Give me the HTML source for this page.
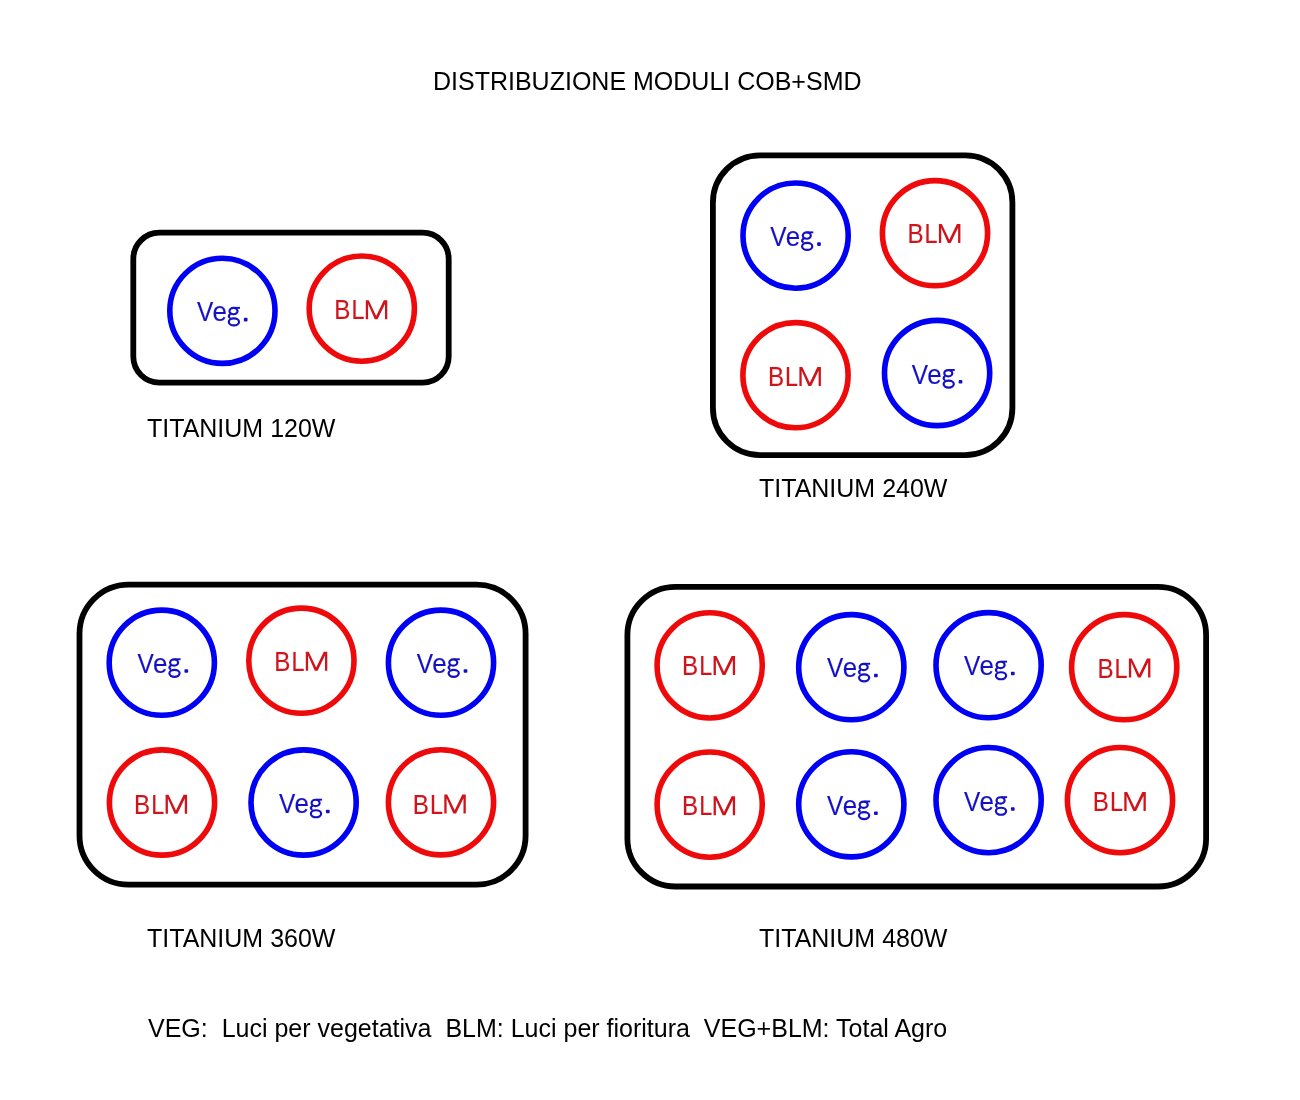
<!DOCTYPE html>
<html><head><meta charset="utf-8"><title>Distribuzione moduli COB+SMD</title>
<style>
html,body{margin:0;padding:0;background:#fff;}
body{width:1300px;height:1100px;position:relative;overflow:hidden;font-family:"Liberation Sans",sans-serif;color:#000;}
#wrap{position:absolute;left:0;top:0;width:1300px;height:1100px;will-change:transform;}
svg{position:absolute;left:0;top:0;}
.v{font-family:"Liberation Sans",sans-serif;font-size:28.05px;fill:#1410c4;stroke:#1410c4;stroke-width:0.15px;}
.b{font-family:"Liberation Sans",sans-serif;font-size:28.05px;fill:#d0141c;stroke:#d0141c;stroke-width:0.15px;}
.lab{font-family:"Liberation Sans",sans-serif;font-size:25px;fill:#000;white-space:pre;}
</style></head><body>
<div id="wrap"><svg width="1300" height="1100" viewBox="0 0 1300 1100">
<g>
<rect x="133.3" y="232.7" width="315.4" height="150.0" rx="26.1" ry="26.1" fill="none" stroke="#000" stroke-width="5.8"/>
<rect x="712.9" y="155.3" width="299.5" height="299.8" rx="47.1" ry="47.1" fill="none" stroke="#000" stroke-width="5.8"/>
<rect x="79.5" y="584.6" width="446.1" height="300.0" rx="49.1" ry="49.1" fill="none" stroke="#000" stroke-width="5.8"/>
<rect x="627.4" y="586.9" width="578.7" height="299.6" rx="48.1" ry="48.1" fill="none" stroke="#000" stroke-width="5.8"/>
<circle cx="222.4" cy="310.8" r="52.6" fill="none" stroke="#0000f5" stroke-width="5.6"/>
<circle cx="361.8" cy="308.6" r="52.6" fill="none" stroke="#ee0a0a" stroke-width="5.6"/>
<circle cx="795.6" cy="235.6" r="52.6" fill="none" stroke="#0000f5" stroke-width="5.6"/>
<circle cx="935.0" cy="233.2" r="52.6" fill="none" stroke="#ee0a0a" stroke-width="5.6"/>
<circle cx="795.5" cy="375.2" r="52.6" fill="none" stroke="#ee0a0a" stroke-width="5.6"/>
<circle cx="937.1" cy="373.0" r="52.6" fill="none" stroke="#0000f5" stroke-width="5.6"/>
<circle cx="161.8" cy="662.7" r="52.6" fill="none" stroke="#0000f5" stroke-width="5.6"/>
<circle cx="301.4" cy="660.7" r="52.6" fill="none" stroke="#ee0a0a" stroke-width="5.6"/>
<circle cx="441.0" cy="662.7" r="52.6" fill="none" stroke="#0000f5" stroke-width="5.6"/>
<circle cx="162.0" cy="802.5" r="52.6" fill="none" stroke="#ee0a0a" stroke-width="5.6"/>
<circle cx="303.6" cy="802.5" r="52.6" fill="none" stroke="#0000f5" stroke-width="5.6"/>
<circle cx="441.0" cy="802.3" r="52.6" fill="none" stroke="#ee0a0a" stroke-width="5.6"/>
<circle cx="709.7" cy="665.4" r="52.6" fill="none" stroke="#ee0a0a" stroke-width="5.6"/>
<circle cx="851.3" cy="667.2" r="52.6" fill="none" stroke="#0000f5" stroke-width="5.6"/>
<circle cx="988.6" cy="665.2" r="52.6" fill="none" stroke="#0000f5" stroke-width="5.6"/>
<circle cx="1124.2" cy="667.2" r="52.6" fill="none" stroke="#ee0a0a" stroke-width="5.6"/>
<circle cx="709.7" cy="804.6" r="52.6" fill="none" stroke="#ee0a0a" stroke-width="5.6"/>
<circle cx="851.3" cy="804.3" r="52.6" fill="none" stroke="#0000f5" stroke-width="5.6"/>
<circle cx="988.6" cy="800.1" r="52.6" fill="none" stroke="#0000f5" stroke-width="5.6"/>
<circle cx="1120.0" cy="800.1" r="52.6" fill="none" stroke="#ee0a0a" stroke-width="5.6"/>
<text class="v" transform="translate(196.88 321.40) scale(0.871 1)">V</text>
<text class="v" transform="translate(212.51 321.40) scale(0.925 1)">e</text>
<g transform="translate(197.00 321.40)" fill="none" stroke="#1410c4" stroke-width="2.2"><ellipse cx="36.5" cy="-10.3" rx="4.0" ry="3.15"/><path d="M37 -13.55 H43.0" stroke-width="1.9"/><path d="M33.6 -7.4 C31.4 -6.4 31.0 -4.3 33.4 -3.4"/><ellipse cx="36.9" cy="0.55" rx="5.1" ry="3.5"/></g>
<rect x="243.85" y="317.85" width="3.7" height="3.55" rx="0.8" fill="#1410c4"/>
<text class="b" transform="translate(334.32 319.20) scale(0.861 1)">B</text>
<text class="b" transform="translate(351.48 319.20) scale(0.833 1)">L</text>
<path transform="translate(336.30 319.20)" fill="#d0141c" d="M29.5 0V-19H32.4L39.9 -3.3L47.5 -19H51V0H48.7V-15.3L41.3 0H38.5L31.8 -15.3V0Z"/>
<text class="v" transform="translate(770.18 245.90) scale(0.871 1)">V</text>
<text class="v" transform="translate(785.81 245.90) scale(0.925 1)">e</text>
<g transform="translate(770.30 245.90)" fill="none" stroke="#1410c4" stroke-width="2.2"><ellipse cx="36.5" cy="-10.3" rx="4.0" ry="3.15"/><path d="M37 -13.55 H43.0" stroke-width="1.9"/><path d="M33.6 -7.4 C31.4 -6.4 31.0 -4.3 33.4 -3.4"/><ellipse cx="36.9" cy="0.55" rx="5.1" ry="3.5"/></g>
<rect x="817.15" y="242.35" width="3.7" height="3.55" rx="0.8" fill="#1410c4"/>
<text class="b" transform="translate(907.42 243.10) scale(0.861 1)">B</text>
<text class="b" transform="translate(924.58 243.10) scale(0.833 1)">L</text>
<path transform="translate(909.40 243.10)" fill="#d0141c" d="M29.5 0V-19H32.4L39.9 -3.3L47.5 -19H51V0H48.7V-15.3L41.3 0H38.5L31.8 -15.3V0Z"/>
<text class="b" transform="translate(767.92 386.10) scale(0.861 1)">B</text>
<text class="b" transform="translate(785.08 386.10) scale(0.833 1)">L</text>
<path transform="translate(769.90 386.10)" fill="#d0141c" d="M29.5 0V-19H32.4L39.9 -3.3L47.5 -19H51V0H48.7V-15.3L41.3 0H38.5L31.8 -15.3V0Z"/>
<text class="v" transform="translate(911.68 383.50) scale(0.871 1)">V</text>
<text class="v" transform="translate(927.31 383.50) scale(0.925 1)">e</text>
<g transform="translate(911.80 383.50)" fill="none" stroke="#1410c4" stroke-width="2.2"><ellipse cx="36.5" cy="-10.3" rx="4.0" ry="3.15"/><path d="M37 -13.55 H43.0" stroke-width="1.9"/><path d="M33.6 -7.4 C31.4 -6.4 31.0 -4.3 33.4 -3.4"/><ellipse cx="36.9" cy="0.55" rx="5.1" ry="3.5"/></g>
<rect x="958.65" y="379.95" width="3.7" height="3.55" rx="0.8" fill="#1410c4"/>
<text class="v" transform="translate(137.48 672.80) scale(0.871 1)">V</text>
<text class="v" transform="translate(153.11 672.80) scale(0.925 1)">e</text>
<g transform="translate(137.60 672.80)" fill="none" stroke="#1410c4" stroke-width="2.2"><ellipse cx="36.5" cy="-10.3" rx="4.0" ry="3.15"/><path d="M37 -13.55 H43.0" stroke-width="1.9"/><path d="M33.6 -7.4 C31.4 -6.4 31.0 -4.3 33.4 -3.4"/><ellipse cx="36.9" cy="0.55" rx="5.1" ry="3.5"/></g>
<rect x="184.45" y="669.25" width="3.7" height="3.55" rx="0.8" fill="#1410c4"/>
<text class="b" transform="translate(274.32 670.80) scale(0.861 1)">B</text>
<text class="b" transform="translate(291.48 670.80) scale(0.833 1)">L</text>
<path transform="translate(276.30 670.80)" fill="#d0141c" d="M29.5 0V-19H32.4L39.9 -3.3L47.5 -19H51V0H48.7V-15.3L41.3 0H38.5L31.8 -15.3V0Z"/>
<text class="v" transform="translate(416.68 672.80) scale(0.871 1)">V</text>
<text class="v" transform="translate(432.31 672.80) scale(0.925 1)">e</text>
<g transform="translate(416.80 672.80)" fill="none" stroke="#1410c4" stroke-width="2.2"><ellipse cx="36.5" cy="-10.3" rx="4.0" ry="3.15"/><path d="M37 -13.55 H43.0" stroke-width="1.9"/><path d="M33.6 -7.4 C31.4 -6.4 31.0 -4.3 33.4 -3.4"/><ellipse cx="36.9" cy="0.55" rx="5.1" ry="3.5"/></g>
<rect x="463.65" y="669.25" width="3.7" height="3.55" rx="0.8" fill="#1410c4"/>
<text class="b" transform="translate(134.12 813.80) scale(0.861 1)">B</text>
<text class="b" transform="translate(151.28 813.80) scale(0.833 1)">L</text>
<path transform="translate(136.10 813.80)" fill="#d0141c" d="M29.5 0V-19H32.4L39.9 -3.3L47.5 -19H51V0H48.7V-15.3L41.3 0H38.5L31.8 -15.3V0Z"/>
<text class="v" transform="translate(278.98 813.20) scale(0.871 1)">V</text>
<text class="v" transform="translate(294.61 813.20) scale(0.925 1)">e</text>
<g transform="translate(279.10 813.20)" fill="none" stroke="#1410c4" stroke-width="2.2"><ellipse cx="36.5" cy="-10.3" rx="4.0" ry="3.15"/><path d="M37 -13.55 H43.0" stroke-width="1.9"/><path d="M33.6 -7.4 C31.4 -6.4 31.0 -4.3 33.4 -3.4"/><ellipse cx="36.9" cy="0.55" rx="5.1" ry="3.5"/></g>
<rect x="325.95" y="809.65" width="3.7" height="3.55" rx="0.8" fill="#1410c4"/>
<text class="b" transform="translate(412.82 813.50) scale(0.861 1)">B</text>
<text class="b" transform="translate(429.98 813.50) scale(0.833 1)">L</text>
<path transform="translate(414.80 813.50)" fill="#d0141c" d="M29.5 0V-19H32.4L39.9 -3.3L47.5 -19H51V0H48.7V-15.3L41.3 0H38.5L31.8 -15.3V0Z"/>
<text class="b" transform="translate(682.12 675.00) scale(0.861 1)">B</text>
<text class="b" transform="translate(699.28 675.00) scale(0.833 1)">L</text>
<path transform="translate(684.10 675.00)" fill="#d0141c" d="M29.5 0V-19H32.4L39.9 -3.3L47.5 -19H51V0H48.7V-15.3L41.3 0H38.5L31.8 -15.3V0Z"/>
<text class="v" transform="translate(827.08 677.30) scale(0.871 1)">V</text>
<text class="v" transform="translate(842.71 677.30) scale(0.925 1)">e</text>
<g transform="translate(827.20 677.30)" fill="none" stroke="#1410c4" stroke-width="2.2"><ellipse cx="36.5" cy="-10.3" rx="4.0" ry="3.15"/><path d="M37 -13.55 H43.0" stroke-width="1.9"/><path d="M33.6 -7.4 C31.4 -6.4 31.0 -4.3 33.4 -3.4"/><ellipse cx="36.9" cy="0.55" rx="5.1" ry="3.5"/></g>
<rect x="874.05" y="673.75" width="3.7" height="3.55" rx="0.8" fill="#1410c4"/>
<text class="v" transform="translate(963.98 675.20) scale(0.871 1)">V</text>
<text class="v" transform="translate(979.61 675.20) scale(0.925 1)">e</text>
<g transform="translate(964.10 675.20)" fill="none" stroke="#1410c4" stroke-width="2.2"><ellipse cx="36.5" cy="-10.3" rx="4.0" ry="3.15"/><path d="M37 -13.55 H43.0" stroke-width="1.9"/><path d="M33.6 -7.4 C31.4 -6.4 31.0 -4.3 33.4 -3.4"/><ellipse cx="36.9" cy="0.55" rx="5.1" ry="3.5"/></g>
<rect x="1010.95" y="671.65" width="3.7" height="3.55" rx="0.8" fill="#1410c4"/>
<text class="b" transform="translate(1097.42 677.60) scale(0.861 1)">B</text>
<text class="b" transform="translate(1114.58 677.60) scale(0.833 1)">L</text>
<path transform="translate(1099.40 677.60)" fill="#d0141c" d="M29.5 0V-19H32.4L39.9 -3.3L47.5 -19H51V0H48.7V-15.3L41.3 0H38.5L31.8 -15.3V0Z"/>
<text class="b" transform="translate(682.12 815.30) scale(0.861 1)">B</text>
<text class="b" transform="translate(699.28 815.30) scale(0.833 1)">L</text>
<path transform="translate(684.10 815.30)" fill="#d0141c" d="M29.5 0V-19H32.4L39.9 -3.3L47.5 -19H51V0H48.7V-15.3L41.3 0H38.5L31.8 -15.3V0Z"/>
<text class="v" transform="translate(827.08 815.00) scale(0.871 1)">V</text>
<text class="v" transform="translate(842.71 815.00) scale(0.925 1)">e</text>
<g transform="translate(827.20 815.00)" fill="none" stroke="#1410c4" stroke-width="2.2"><ellipse cx="36.5" cy="-10.3" rx="4.0" ry="3.15"/><path d="M37 -13.55 H43.0" stroke-width="1.9"/><path d="M33.6 -7.4 C31.4 -6.4 31.0 -4.3 33.4 -3.4"/><ellipse cx="36.9" cy="0.55" rx="5.1" ry="3.5"/></g>
<rect x="874.05" y="811.45" width="3.7" height="3.55" rx="0.8" fill="#1410c4"/>
<text class="v" transform="translate(963.98 810.70) scale(0.871 1)">V</text>
<text class="v" transform="translate(979.61 810.70) scale(0.925 1)">e</text>
<g transform="translate(964.10 810.70)" fill="none" stroke="#1410c4" stroke-width="2.2"><ellipse cx="36.5" cy="-10.3" rx="4.0" ry="3.15"/><path d="M37 -13.55 H43.0" stroke-width="1.9"/><path d="M33.6 -7.4 C31.4 -6.4 31.0 -4.3 33.4 -3.4"/><ellipse cx="36.9" cy="0.55" rx="5.1" ry="3.5"/></g>
<rect x="1010.95" y="807.15" width="3.7" height="3.55" rx="0.8" fill="#1410c4"/>
<text class="b" transform="translate(1092.82 811.00) scale(0.861 1)">B</text>
<text class="b" transform="translate(1109.98 811.00) scale(0.833 1)">L</text>
<path transform="translate(1094.80 811.00)" fill="#d0141c" d="M29.5 0V-19H32.4L39.9 -3.3L47.5 -19H51V0H48.7V-15.3L41.3 0H38.5L31.8 -15.3V0Z"/>
<text class="lab" x="433" y="90">DISTRIBUZIONE MODULI COB+SMD</text>
<text class="lab" x="147" y="436.7">TITANIUM 120W</text>
<text class="lab" x="759" y="496.7">TITANIUM 240W</text>
<text class="lab" x="147" y="946.7">TITANIUM 360W</text>
<text class="lab" x="759" y="946.7">TITANIUM 480W</text>
<text class="lab" x="148" y="1037" xml:space="preserve">VEG:  Luci per vegetativa  BLM: Luci per fioritura  VEG+BLM: Total Agro</text>
</g></svg></div>
</body></html>
